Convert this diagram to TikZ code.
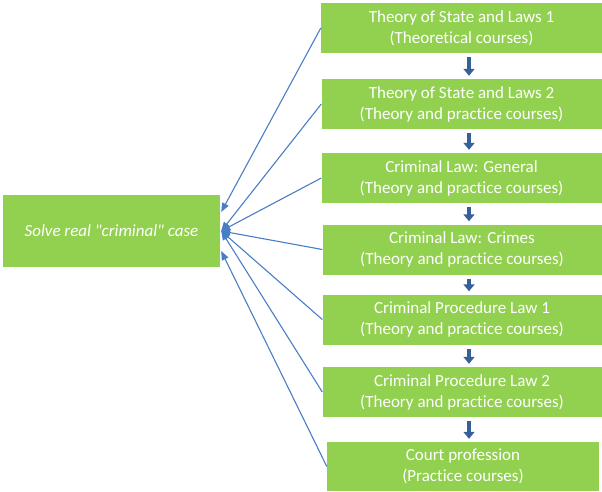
\documentclass[tikz,border=0pt]{standalone}
\usepackage{fontspec}
\setmainfont{Carlito}[Ligatures={TeXOff,CommonOff}]
\usetikzlibrary{arrows.meta,calc}
\definecolor{boxgreen}{HTML}{92D050}
\definecolor{linkblue}{HTML}{4A7EC4}
\definecolor{downblue}{HTML}{35609A}
\begin{document}
\begin{tikzpicture}[x=1pt,y=-1pt,
  box/.style={fill=boxgreen, draw=none, text=white, align=center, inner sep=0pt, font=\fontsize{17}{21}\selectfont},
  link/.style={draw=linkblue, line width=1.1pt, -{Triangle[length=9pt,width=7pt]}},
  down/.style={draw=downblue, line width=3.6pt, -{Triangle[length=7pt,width=11pt]}}]
\useasboundingbox (0,0) rectangle (602,492);
% left box
\node[box, minimum width=217pt, minimum height=72pt] (goal) at (111.5,231) {\itshape Solve real "criminal" case};
% right column
\node[box, minimum width=281pt, minimum height=50pt] (b1) at (461.5,28) {Theory of State and Laws 1\\(Theoretical courses)};
\node[box, minimum width=280pt, minimum height=50pt] (b2) at (461.5,104) {Theory of State and Laws 2\\(Theory and practice courses)};
\node[box, minimum width=280pt, minimum height=50pt] (b3) at (461.5,178) {Criminal Law: General\\(Theory and practice courses)};
\node[box, minimum width=279pt, minimum height=50pt] (b4) at (462,249.5) {Criminal Law: Crimes\\(Theory and practice courses)};
\node[box, minimum width=279pt, minimum height=50pt] (b5) at (462,319.5) {Criminal Procedure Law 1\\(Theory and practice courses)};
\node[box, minimum width=279pt, minimum height=50pt] (b6) at (462,392) {Criminal Procedure Law 2\\(Theory and practice courses)};
\node[box, minimum width=272pt, minimum height=49pt] (b7) at (463,466.5) {Court profession\\(Practice courses)};
% arrow targets on the left box
\coordinate (tA) at ($(goal.east)+(1,-19)$);
\coordinate (tB) at ($(goal.east)+(1,0)$);
\coordinate (tC) at ($(goal.east)+(1,20)$);
\coordinate (ax) at (469,0);
% connectors
\draw[link] (b1.west) -- (tA);
\draw[link] (b2.west) -- (tB);
\draw[link] (b3.west) -- (tB);
\draw[link] (b4.west) -- (tB);
\draw[link] (b5.west) -- (tB);
\draw[link] (b6.west) -- (tB);
\draw[link] (b7.west) -- (tC);
% sequence arrows
\draw[down] ($(b1.south -| ax)+(0,4)$) -- ($(b2.north -| ax)+(0,-3)$);
\draw[down] ($(b2.south -| ax)+(0,4)$) -- ($(b3.north -| ax)+(0,-3)$);
\draw[down] ($(b3.south -| ax)+(0,4)$) -- ($(b4.north -| ax)+(0,-3)$);
\draw[down] ($(b4.south -| ax)+(0,4)$) -- ($(b5.north -| ax)+(0,-3)$);
\draw[down] ($(b5.south -| ax)+(0,4)$) -- ($(b6.north -| ax)+(0,-3)$);
\draw[down] ($(b6.south -| ax)+(0,4)$) -- ($(b7.north -| ax)+(0,-3)$);
\end{tikzpicture}
\end{document}
